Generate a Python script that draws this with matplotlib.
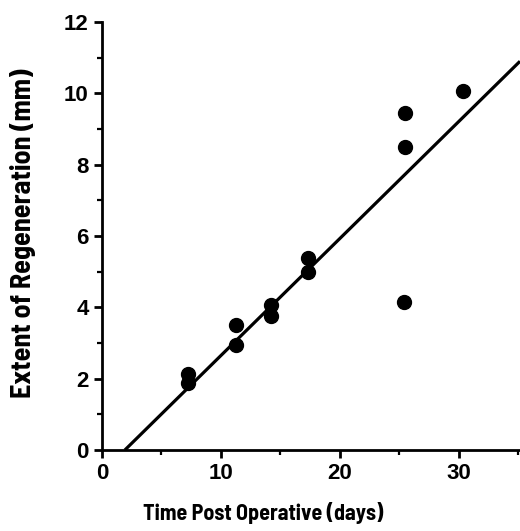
import matplotlib
matplotlib.use("Agg")
import matplotlib.pyplot as plt
from matplotlib import font_manager

# Data
days = [7.25, 7.25, 11.3, 11.3, 14.25, 14.25, 17.3, 17.3, 25.5, 25.5, 25.4, 30.35]
regeneration = [2.12, 1.89, 3.5, 2.94, 4.07, 3.76, 5.37, 4.98, 9.46, 8.49, 4.14, 10.07]
fit_x = [1.93, 35.15]
fit_y = [0.0, 10.9]

x_ticks = [0, 10, 20, 30]
x_minor = [5, 15, 25, 35]
y_ticks = [0, 2, 4, 6, 8, 10, 12]
y_minor = [1, 3, 5, 7, 9, 11]

plt.rcParams['font.family'] = ['Liberation Sans', 'DejaVu Sans']

names = {f.name for f in font_manager.fontManager.ttflist}
label_family = ['Liberation Sans', 'DejaVu Sans']
for cand in ['Barlow Semi Condensed', 'Asap Condensed', 'Liberation Sans Narrow']:
    if cand in names:
        label_family = [cand, 'DejaVu Sans']
        break

fig = plt.figure(figsize=(5.2, 5.31), dpi=100)
ax = fig.add_axes([0.196, 0.1525, 0.804, 0.806])

ax.plot(fit_x, fit_y, color='black', lw=2.3, solid_capstyle='butt', zorder=2, clip_on=False)
ax.plot(days, regeneration, 'o', color='black', markersize=10, zorder=3)

ax.set_xlim(0, 35.15)
ax.set_ylim(0, 12)
ax.set_xticks(x_ticks)
ax.set_yticks(y_ticks)
ax.set_xticks(x_minor, minor=True)
ax.set_yticks(y_minor, minor=True)

for s in ['top', 'right']:
    ax.spines[s].set_visible(False)
for s in ['left', 'bottom']:
    ax.spines[s].set_linewidth(2.0)

ax.tick_params(which='major', direction='out', length=6, width=2.0, labelsize=16, pad=3.5)
ax.tick_params(which='minor', direction='out', length=3.5, width=1.6)
for lab in ax.get_xticklabels() + ax.get_yticklabels():
    lab.set_fontweight('bold')

xl = ax.set_xlabel('Time Post Operative (days)', fontsize=16, fontweight='bold', family=label_family)
yl = ax.set_ylabel('Extent of Regeneration (mm)', fontsize=20, fontweight='bold', family=label_family)
ax.xaxis.set_label_coords(0.385, -0.122)
ax.yaxis.set_label_coords(-0.158, 0.507)

# size the labels so that their length matches the reference (in pixels)
renderer = fig.canvas.get_renderer()
for text, target, horizontal in [(xl, 240.0, True), (yl, 330.0, False)]:
    for _ in range(3):
        bb = text.get_window_extent(renderer)
        length = bb.width if horizontal else bb.height
        if length > 0:
            text.set_fontsize(text.get_fontsize() * target / length)

fig.savefig('out.png', dpi=100)
